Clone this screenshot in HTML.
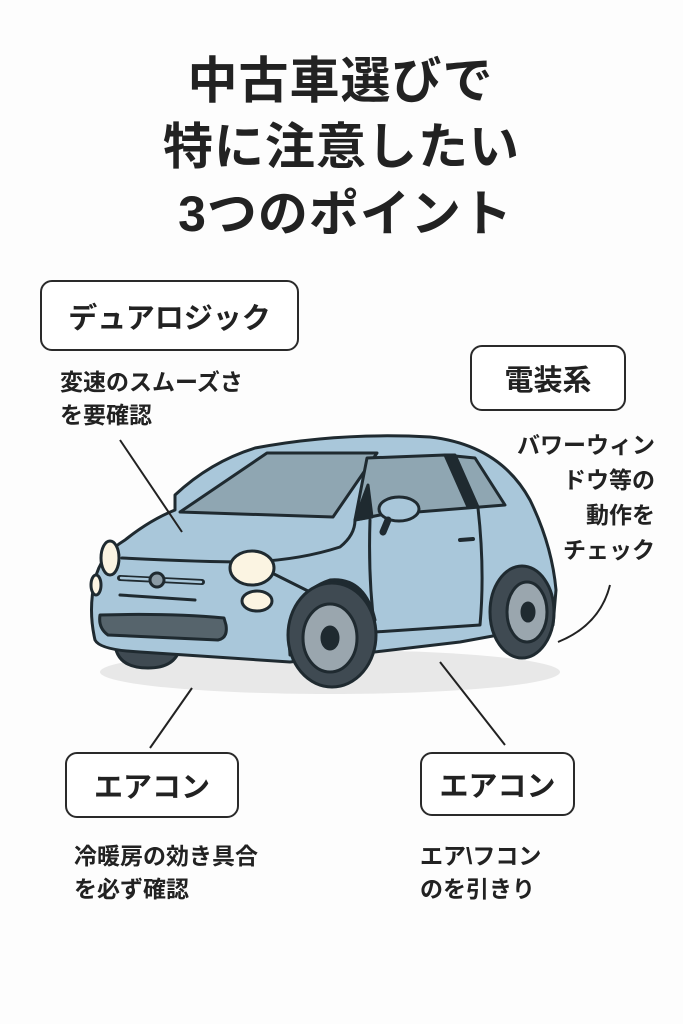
<!DOCTYPE html>
<html><head><meta charset="utf-8"><style>
html,body{margin:0;padding:0;background:#fdfdfd;}
body{width:683px;height:1024px;position:relative;overflow:hidden;font-family:"Liberation Sans","Noto Sans CJK JP",sans-serif;color:#222;}
.t{position:absolute;left:0;width:683px;text-align:center;font-weight:bold;font-size:50px;line-height:1;letter-spacing:1px;}
.box{position:absolute;border:2.5px solid #2a2a2a;border-radius:12px;background:#fff;box-sizing:border-box;display:flex;align-items:center;justify-content:center;font-weight:bold;font-size:29px;}
.tx{position:absolute;font-weight:bold;font-size:23px;line-height:33px;white-space:nowrap;}
svg{position:absolute;left:0;top:0;}
</style></head><body>
<div class="t" style="top:56px;left:-1px;">中古車選びで</div>
<div class="t" style="top:122px;">特に注意したい</div>
<div class="t" style="top:189px;left:4px;">3つのポイント</div>

<svg width="683" height="1024" viewBox="0 0 683 1024">
<g stroke="#1f2a30" stroke-width="3" stroke-linejoin="round" stroke-linecap="round">
<ellipse cx="330" cy="672" rx="230" ry="22" fill="#e8e8e8" stroke="none"/>
<!-- front left wheel -->
<path d="M115 645 Q118 668 148 668 Q175 668 180 648 Z" fill="#3f4a52"/>
<!-- body -->
<path d="M175 495 Q210 462 255 448 Q340 432 430 437 Q500 445 530 500 Q552 545 556 590 L553 625 L460 642 L290 662 L140 652 Q100 650 95 640 Q88 610 95 580 Q100 555 125 540 Q150 520 175 510 Z" fill="#a9c7da"/>
<!-- windshield -->
<path d="M180 512 L267 453 L377 453 L333 517 Z" fill="#8fa6b2"/>
<!-- side windows -->
<path d="M367 458 L445 455 L475 458 L505 505 L380 515 L355 520 Z" fill="#8fa6b2"/>
<path d="M445 455 L455 455 L478 507 L468 507 Z" fill="#1f2a30"/>
<path d="M355 520 L368 485 L372 517 Z" fill="#1f2a30"/>
<!-- door -->
<path d="M370 520 Q368 580 375 632 L480 625 Q485 570 478 508" fill="none"/>
<path d="M460 540 L473 539" stroke-width="4"/>
<!-- mirror -->
<ellipse cx="399" cy="509" rx="20" ry="12" fill="#a9c7da"/>
<path d="M388 520 L383 532" stroke-width="7"/>
<!-- hood line -->
<path d="M122 558 Q200 562 250 562 Q300 560 340 547 Q355 535 355 520" fill="none"/>
<path d="M274 574 L310 592" fill="none"/>
<!-- grille -->
<path d="M120 578 L202 582" stroke-width="6" stroke="#1f2a30"/>
<path d="M121 578 L201 582" stroke-width="2.5" stroke="#a9c7da"/>
<circle cx="157" cy="580" r="7" fill="#8a9aa4"/>
<path d="M120 595 L195 600" fill="none"/>
<path d="M100 615 Q98 628 108 635 L218 640 Q228 638 226 625 L224 618 Q170 613 100 615 Z" fill="#56646c"/>
<!-- lights -->
<ellipse cx="252" cy="568" rx="22" ry="17" fill="#fbf4e2"/>
<ellipse cx="257" cy="601" rx="15" ry="10" fill="#fbf4e2"/>
<ellipse cx="110" cy="558" rx="9" ry="17" fill="#fbf4e2"/>
<ellipse cx="96" cy="585" rx="5" ry="10" fill="#fbf4e2"/>
<!-- front wheel -->
<path d="M290 655 Q285 595 330 580 Q365 577 375 620" fill="#1f2a30"/>
<ellipse cx="332" cy="635" rx="44" ry="52" fill="#3f4a52"/>
<ellipse cx="330" cy="638" rx="27" ry="34" fill="#9aa6ae"/>
<ellipse cx="330" cy="638" rx="8" ry="11" fill="#1f2a30"/>
<!-- rear wheel -->
<ellipse cx="522" cy="612" rx="32" ry="46" fill="#3f4a52"/>
<ellipse cx="527" cy="612" rx="20" ry="30" fill="#9aa6ae"/>
<ellipse cx="528" cy="612" rx="6" ry="9" fill="#1f2a30"/>
</g>
<g stroke="#222" stroke-width="2" fill="none">
<path d="M120 440 L182 532"/>
<path d="M610 585 Q600 625 558 642"/>
<path d="M192 688 L150 748"/>
<path d="M440 662 L505 745"/>
</g>
</svg>

<div class="box" style="left:40px;top:280px;width:259px;height:71px;">デュアロジック</div>
<div class="tx" style="left:60px;top:366px;">変速のスムーズさ<br>を要確認</div>
<div class="box" style="left:470px;top:345px;width:156px;height:66px;">電装系</div>
<div class="tx" style="right:28px;top:428px;text-align:right;line-height:35px;">バワーウィン<br>ドウ等の<br>動作を<br>チェック</div>
<div class="box" style="left:65px;top:752px;width:174px;height:66px;">エアコン</div>
<div class="tx" style="left:74px;top:840px;">冷暖房の効き具合<br>を必ず確認</div>
<div class="box" style="left:420px;top:752px;width:155px;height:64px;">エアコン</div>
<div class="tx" style="left:420px;top:840px;">エア\フコン<br>のを引きり</div>
</body></html>
